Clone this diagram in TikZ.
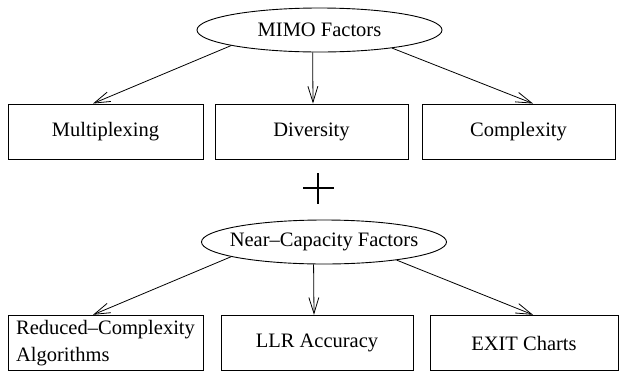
\documentclass[tikz,border=0pt]{standalone}
\usepackage{fontspec}
\setmainfont{Liberation Serif}
\usetikzlibrary{shapes.geometric,arrows.meta}
\begin{document}
\begin{tikzpicture}[x=1pt,y=-1pt,
  every node/.style={font=\fontsize{20.5}{27}\selectfont},
  oval/.style={draw, ellipse, minimum width=245pt, minimum height=44pt, inner sep=0pt, line width=0.9pt},
  box/.style={draw, rectangle, inner sep=0pt, minimum height=55pt, line width=0.9pt, align=left},
  arr/.style={-{Straight Barb[length=16pt,width=10pt]}, line width=0.8pt},
  plusline/.style={line width=1.2pt}
]
\useasboundingbox (0,0) rectangle (619,373);
% top group
\node[oval, label={center:MIMO Factors}] (m) at (319.5,30) {};
\node[box, minimum width=195pt] (b1) at (105.5,131.5) {Multiplexing};
\node[box, minimum width=193pt] (b2) at (311.5,131.5) {Diversity};
\node[box, minimum width=193pt] (b3) at (518.5,131.5) {Complexity};
\draw[arr] (m.190.85) -- ([xshift=-12.5pt]b1.north);
\draw[arr] (m.253.5) -- ([xshift=1.5pt]b2.north);
\draw[arr] (m.346.8) -- ([xshift=14.5pt]b3.north);
% plus sign
\draw[plusline] (303,188) -- (334,188);
\draw[plusline] (318,173) -- (318,204);
% bottom group
\node[oval, label={center:Near–Capacity Factors}] (n) at (324,242) {};
\node[box, minimum width=195pt, minimum height=55.5pt] (c1) at (105.5,343) {Reduced–Complexity\\Algorithms};
\node[box, minimum width=192pt, minimum height=55.5pt] (c2) at (317,343) {LLR Accuracy};
\node[box, minimum width=188pt, minimum height=55.5pt] (c3) at (524,343) {EXIT Charts};
\draw[arr] (n.189.8) -- ([xshift=-12.5pt]c1.north);
\draw[arr] (n.245.6) -- ([xshift=-3pt]c2.north);
\draw[arr] (n.346) -- ([xshift=9pt]c3.north);
\end{tikzpicture}
\end{document}
